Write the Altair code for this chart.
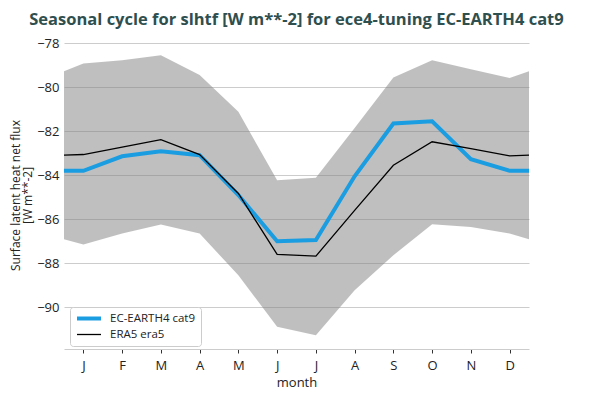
import altair as alt
import pandas as pd

# month positions: half-month edges on both sides (Dec/Jan wrap)
month_pos = [0.5, 1, 2, 3, 4, 5, 6, 7, 8, 9, 10, 11, 12, 12.5]
month_labels = ["J", "F", "M", "A", "M", "J", "J", "A", "S", "O", "N", "D"]

model = [-83.80, -83.80, -83.14, -82.91, -83.09, -84.90, -87.00, -86.95,
         -84.05, -81.65, -81.55, -83.27, -83.80, -83.80]
era5 = [-83.09, -83.06, -82.72, -82.38, -83.06, -84.83, -87.60, -87.68,
        -85.60, -83.55, -82.48, -82.79, -83.12, -83.09]
band_hi = [-79.27, -78.92, -78.77, -78.55, -79.45, -81.12, -84.23, -84.12,
           -81.85, -79.56, -78.77, -79.18, -79.58, -79.27]
band_lo = [-86.91, -87.15, -86.65, -86.24, -86.65, -88.55, -90.89, -91.27,
           -89.23, -87.64, -86.23, -86.35, -86.65, -86.91]

MODEL_NAME = "EC-EARTH4 cat9"
OBS_NAME = "ERA5 era5"
BLUE = "#1b9de2"
FONT = "Open Sans"

band_df = pd.DataFrame({"month": month_pos, "lo": band_lo, "hi": band_hi})
lines_df = pd.concat([
    pd.DataFrame({"month": month_pos, "value": model, "series": MODEL_NAME}),
    pd.DataFrame({"month": month_pos, "value": era5, "series": OBS_NAME}),
])

label_expr = "[" + ",".join(f"'{m}'" for m in month_labels) + "][datum.value - 1]"

x = alt.X(
    "month:Q",
    title="month",
    scale=alt.Scale(domain=[0.5, 12.5], nice=False, zero=False),
    axis=alt.Axis(values=list(range(1, 13)), labelExpr=label_expr, grid=False,
                  domainColor="#cccccc", tickColor="#333333", tickSize=4,
                  labelPadding=6, titlePadding=4),
)
y_scale = alt.Scale(domain=[-91.9, -77.9], nice=False, zero=False)

band = alt.Chart(band_df).mark_area(color="gray", opacity=0.5).encode(
    x=x,
    y=alt.Y("lo:Q", scale=y_scale,
            title=["Surface latent heat net flux", "[W m**-2]"],
            axis=alt.Axis(values=list(range(-90, -77, 2)), domain=False, ticks=False,
                          gridColor="#cccccc", labelPadding=5, titlePadding=2,
                          titleFontSize=12, titleLineHeight=12.5)),
    y2="hi:Q",
)

legend = alt.Legend(title=None, orient="none", legendX=6, legendY=266,
                    symbolType="stroke", symbolSize=576, clipHeight=13,
                    fillColor="white", strokeColor="#cccccc",
                    padding=5, cornerRadius=3, labelFontSize=11.5,
                    rowPadding=3, labelOffset=7)

lines = alt.Chart(lines_df).mark_line().encode(
    x=x,
    y=alt.Y("value:Q", scale=y_scale),
    color=alt.Color("series:N",
                    scale=alt.Scale(domain=[MODEL_NAME, OBS_NAME], range=[BLUE, "black"]),
                    legend=legend),
    strokeWidth=alt.StrokeWidth("series:N",
                                scale=alt.Scale(domain=[MODEL_NAME, OBS_NAME], range=[4, 1.3]),
                                legend=legend),
)

chart = (band + lines).properties(
    width=465,
    height=308,
    autosize=alt.AutoSizeParams(type="none"),
    padding={"left": 56, "top": 33, "right": 50, "bottom": 50},
    title=alt.TitleParams(
        "Seasonal cycle for slhtf [W m**-2] for ece4-tuning EC-EARTH4 cat9",
        fontSize=16.5, fontWeight="bold", color="#2f4f4f", font=FONT, offset=9,
    ),
).configure_view(stroke=None).configure_axis(
    labelFont=FONT, titleFont=FONT, labelFontSize=13, titleFontSize=13,
    labelColor="#222222", titleColor="#222222", titleFontWeight="normal",
).configure_legend(labelFont=FONT, labelColor="#222222")

chart.save("out.html", embed_options={"renderer": "svg", "actions": False})
